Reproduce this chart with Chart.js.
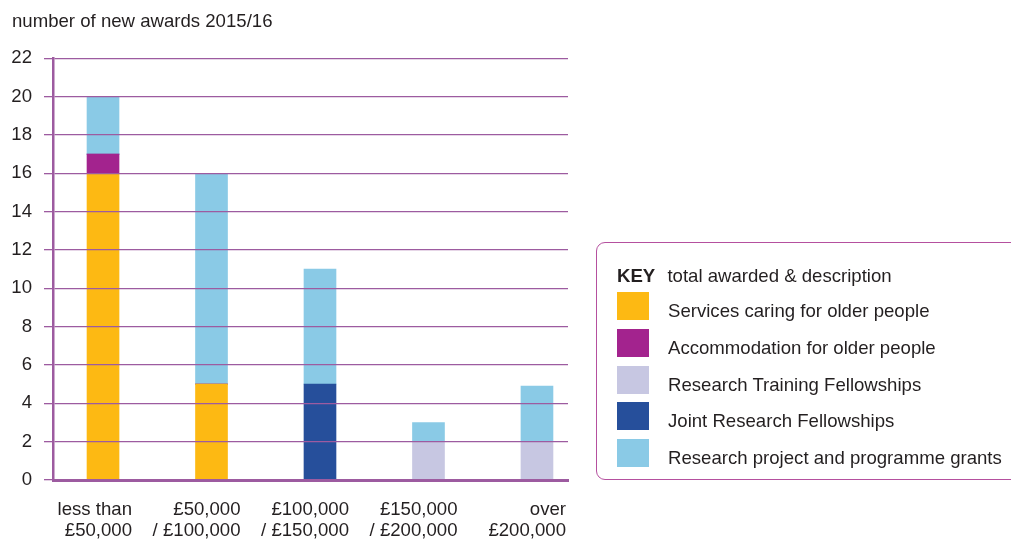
<!DOCTYPE html>
<html>
<head>
<meta charset="utf-8">
<script src="https://cdn.jsdelivr.net/npm/chart.js@4.4.0/dist/chart.umd.min.js"></script>
<style>
    body { margin: 0; background: #fff; font-family: "Liberation Sans", Arial, sans-serif; color: #231f20; }
    #wrap { position: relative; width: 1011px; height: 539px; overflow: hidden; }
    #grafico { position: absolute; left: 0; top: 0; }
    .key { position: absolute; left: 596px; top: 242px; width: 440px; height: 236px; border: 1.5px solid #b5509f; border-radius: 9px; }
    .key-titulo { position: absolute; left: 20px; top: 19px; font-size: 18.6px; line-height: 28px; white-space: nowrap; }
    .key-titulo b { margin-right: 7px; }
    .item { position: absolute; left: 20px; height: 28px; }
    .item span.cor { position: absolute; left: 0; top: 0; width: 32px; height: 28px; }
    .item span.txt { position: absolute; left: 51px; top: 5px; line-height: 28px; white-space: nowrap; font-size: 18.6px; }
</style>
</head>
<body>
<div id="wrap">
    <canvas id="grafico" width="1011" height="539"></canvas>
    <div class="key" id="key">
        <div class="key-titulo"><b>KEY</b> total awarded &amp; description</div>
    </div>
</div>
<script>
const faixas = [["less than", "£50,000"], ["£50,000", "/ £100,000"], ["£100,000", "/ £150,000"], ["£150,000", "/ £200,000"], ["over", "£200,000"]];
const yTicks = [0, 2, 4, 6, 8, 10, 12, 14, 16, 18, 20, 22];

const servicos = [16, 5, 0, 0, 0];
const acomodacao = [1, 0, 0, 0, 0];
const treinamento = [0, 0, 0, 2, 2];
const conjunta = [0, 0, 5, 0, 0];
const projetos = [3, 11, 6, 1, 2.9];

const nomesSeries = ["Services caring for older people", "Accommodation for older people", "Research Training Fellowships", "Joint Research Fellowships", "Research project and programme grants"];
const coresSeries = ["#fdb913", "#a3238e", "#c7c7e2", "#264f9b", "#8acae6"];

const roxo = "#9d5ba0";
const fonte = "'Liberation Sans', Arial, sans-serif";

function pontos(valores) {
    let lista = [];
    for (let i = 0; i < valores.length; i++) {
        lista.push({ x: i, y: valores[i] });
    }
    return lista;
}

const todas = [servicos, acomodacao, treinamento, conjunta, projetos];
let datasets = [];
for (let i = 0; i < todas.length; i++) {
    datasets.push({
        label: nomesSeries[i],
        data: pontos(todas[i]),
        backgroundColor: coresSeries[i],
        barThickness: 32
    });
}

// legenda em html (caixa KEY)
const key = document.getElementById("key");
for (let i = 0; i < nomesSeries.length; i++) {
    let item = document.createElement("div");
    item.className = "item";
    item.style.top = (49 + i * 36.8) + "px";
    item.innerHTML = `<span class="cor" style="background:${coresSeries[i]}"></span><span class="txt">${nomesSeries[i]}</span>`;
    key.appendChild(item);
}

Chart.defaults.font.family = fonte;
Chart.defaults.font.size = 18.6;
Chart.defaults.color = "#231f20";

new Chart(document.getElementById("grafico"), {
    type: "bar",
    data: { datasets: datasets },
    options: {
        responsive: false,
        animation: false,
        layout: { padding: { left: 12, right: 443, top: 0, bottom: 0 } },
        plugins: {
            legend: { display: false },
            tooltip: { enabled: false },
            title: {
                display: true,
                text: "number of new awards 2015/16",
                align: "start",
                color: "#231f20",
                font: { size: 18.6, weight: "normal", lineHeight: 1.2 },
                padding: { top: 11, bottom: 25 }
            }
        },
        scales: {
            x: {
                type: "linear",
                stacked: true,
                offset: false,
                min: -0.461,
                max: 4.286,
                grid: { display: false, drawTicks: false },
                border: { display: true, color: roxo, width: 3, z: 1 },
                afterFit: function (s) {
                    s.height = 59;
                    s.paddingLeft = 0;
                    s.paddingRight = 0;
                },
                ticks: {
                    stepSize: 1,
                    includeBounds: false,
                    align: "end",
                    labelOffset: 29,
                    padding: 20,
                    maxRotation: 0,
                    autoSkip: false,
                    color: "#231f20",
                    font: { size: 18.6, lineHeight: 1.1 },
                    callback: function (v) {
                        return Number.isInteger(v) ? faixas[v] : "";
                    }
                }
            },
            y: {
                stacked: true,
                min: 0,
                max: 22,
                afterBuildTicks: function (eixo) {
                    eixo.ticks = yTicks.map(v => ({ value: v }));
                },
                afterFit: function (s) {
                    s.width = 41;
                },
                grid: { color: roxo, lineWidth: 1.3, tickLength: 9, z: 1 },
                border: { color: roxo, width: 2.5, z: 1 },
                ticks: { padding: 12, color: "#231f20" }
            }
        }
    }
});
</script>
</body>
</html>
